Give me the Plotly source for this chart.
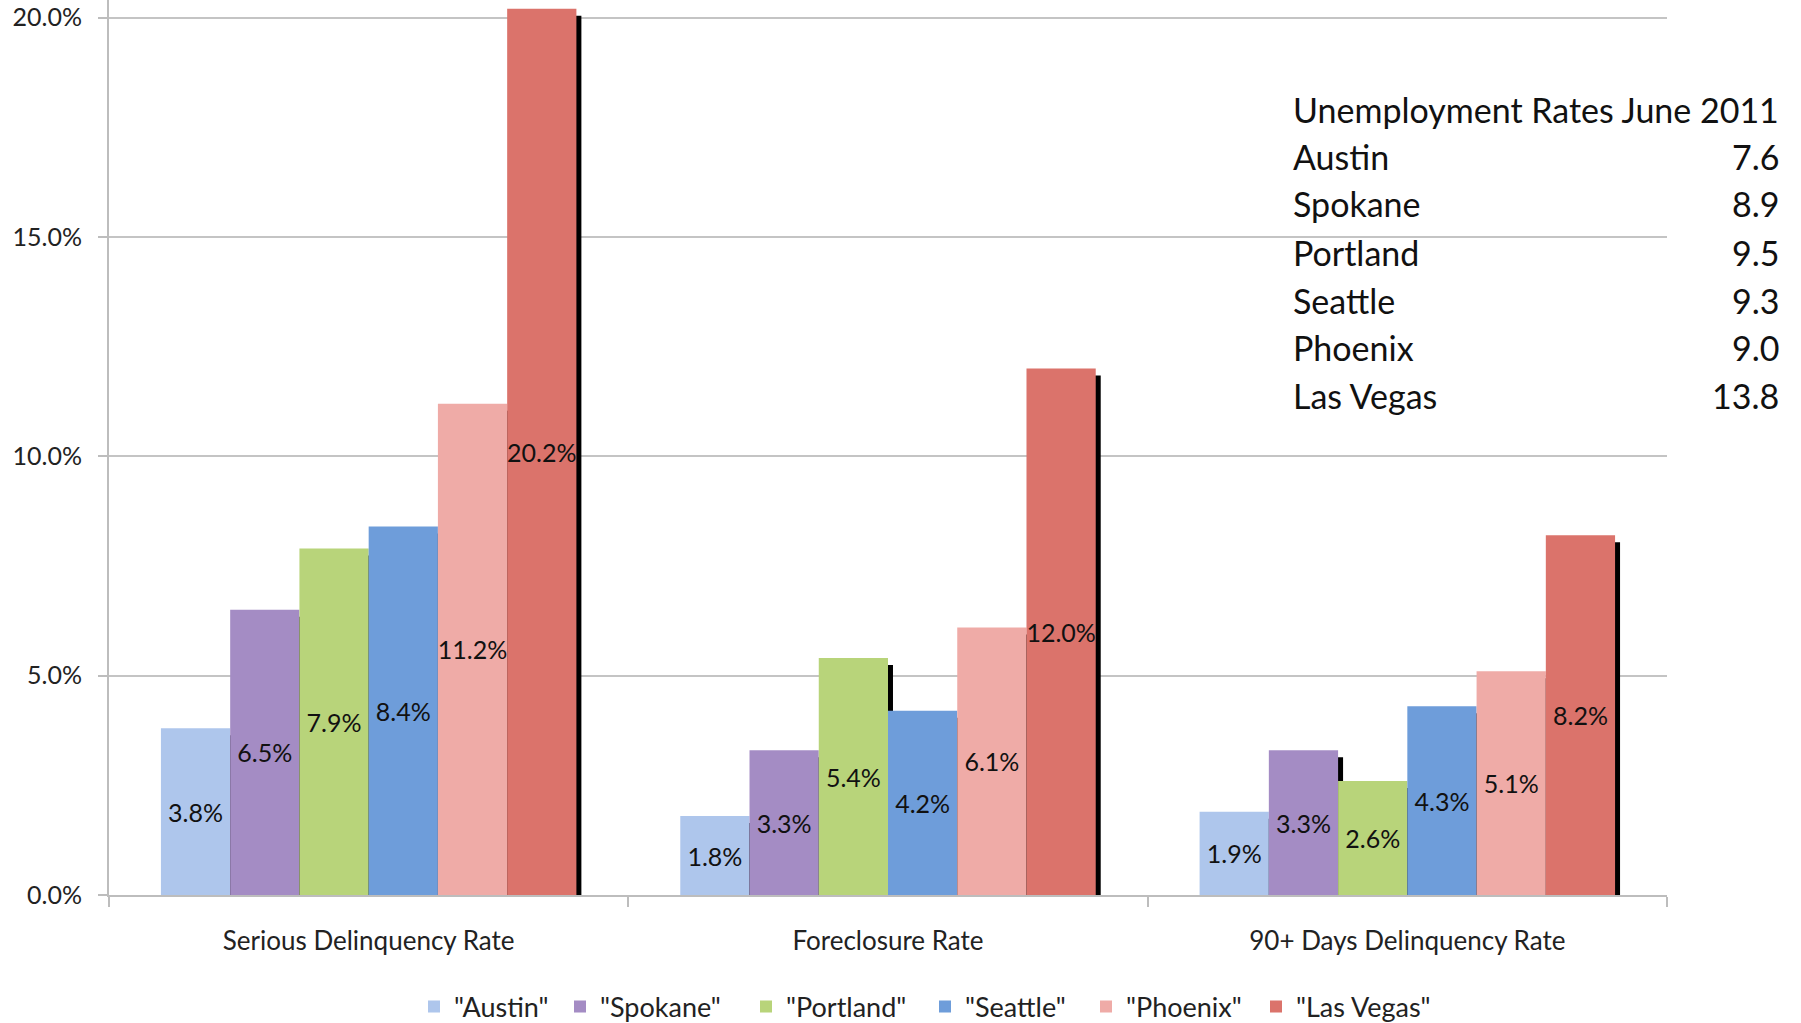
import plotly.graph_objects as go

categories = ["Serious Delinquency Rate", "Foreclosure Rate", "90+ Days Delinquency Rate"]
cities = ["Austin", "Spokane", "Portland", "Seattle", "Phoenix", "Las Vegas"]
austin = [3.8, 1.8, 1.9]
spokane = [6.5, 3.3, 3.3]
portland = [7.9, 5.4, 2.6]
seattle = [8.4, 4.2, 4.3]
phoenix = [11.2, 6.1, 5.1]
las_vegas = [20.2, 12.0, 8.2]
series = [austin, spokane, portland, seattle, phoenix, las_vegas]

unemp_title = "Unemployment Rates June 2011"
unemp_rates = [7.6, 8.9, 9.5, 9.3, 9.0, 13.8]

y_ticks = [0, 5, 10, 15, 20]
y_tick_text = ["%.1f%%" % t for t in y_ticks]

# styling
colors = ["#aec6ec", "#a48cc4", "#b8d47a", "#6e9dda", "#efaba7", "#db736b"]
legend_widths = [101, 141, 134, 116, 125, 130]

FONT = "Lato"
bar_w = 0.8 / len(cities)

fig = go.Figure()

# shadows (drawn first, behind the bars)
for i, vals in enumerate(series):
    fig.add_trace(go.Bar(
        x=categories, y=[v - 0.16 for v in vals],
        offset=-0.4 + i * bar_w + 0.0096, width=bar_w,
        marker=dict(color="#000000", line=dict(width=0)),
        showlegend=False, hoverinfo="skip",
    ))

for i, (city, vals) in enumerate(zip(cities, series)):
    fig.add_trace(go.Bar(
        x=categories, y=vals, name='"%s"' % city,
        offset=-0.4 + i * bar_w, width=bar_w,
        marker=dict(color=colors[i], line=dict(width=0)),
        texttemplate="%{y:.1f}%", textposition="inside", textangle=0,
        insidetextanchor="middle", constraintext="none",
        textfont=dict(family=FONT, size=25, color="#111111"),
        cliponaxis=False, legendwidth=legend_widths[i],
    ))

# unemployment table
x0, y0 = 109, 895
pw, ph = 1667 - 109, 895
def px(x):
    return (x - x0) / pw
def py(y):
    return (y0 - y) / ph

rows_y = [157, 204, 253, 300, 347, 395]
fig.add_annotation(x=px(1291), y=py(110), xref="paper", yref="paper",
                   text=unemp_title, showarrow=False, xanchor="left", yanchor="middle",
                   font=dict(family=FONT, size=34, color="#111111"))
for city, rate, ry in zip(cities, unemp_rates, rows_y):
    fig.add_annotation(x=px(1291), y=py(ry), xref="paper", yref="paper",
                       text=city, showarrow=False, xanchor="left", yanchor="middle",
                       font=dict(family=FONT, size=34, color="#111111"))
    fig.add_annotation(x=px(1781), y=py(ry), xref="paper", yref="paper",
                       text="%.1f" % rate, showarrow=False, xanchor="right", yanchor="middle",
                       font=dict(family=FONT, size=34, color="#111111"))

fig.update_layout(
    width=1801, height=1023,
    margin=dict(l=109, r=134, t=0, b=128, autoexpand=False),
    paper_bgcolor="white", plot_bgcolor="white",
    barmode="overlay",
    font=dict(family=FONT, size=24, color="#222222"),
    legend=dict(orientation="h", x=px(414), y=py(1007), xanchor="left", yanchor="middle",
                font=dict(family=FONT, size=27, color="#222222"), itemwidth=30,
                traceorder="normal", entrywidthmode="pixels"),
    xaxis=dict(
        type="category", categoryorder="array", categoryarray=categories,
        showline=True, linecolor="#bdbdbd", linewidth=2,
        ticks="outside", tickson="boundaries", ticklen=10, tickcolor="#bdbdbd", tickwidth=2,
        showgrid=False, ticklabelstandoff=22, automargin=False,
        tickfont=dict(family=FONT, size=26, color="#222222"),
    ),
    yaxis=dict(
        range=[0, 20.4], tickvals=y_ticks, ticktext=y_tick_text,
        showline=True, linecolor="#bdbdbd", linewidth=2,
        ticks="outside", ticklen=9, tickcolor="#bdbdbd", tickwidth=2,
        showgrid=True, gridcolor="#c4c4c4", gridwidth=2,
        zeroline=False, ticklabelstandoff=11, automargin=False,
        tickfont=dict(family=FONT, size=25, color="#222222"),
    ),
)

fig.write_html("out.html", config={"displayModeBar": False},
               post_script="document.body.style.margin='0';")
